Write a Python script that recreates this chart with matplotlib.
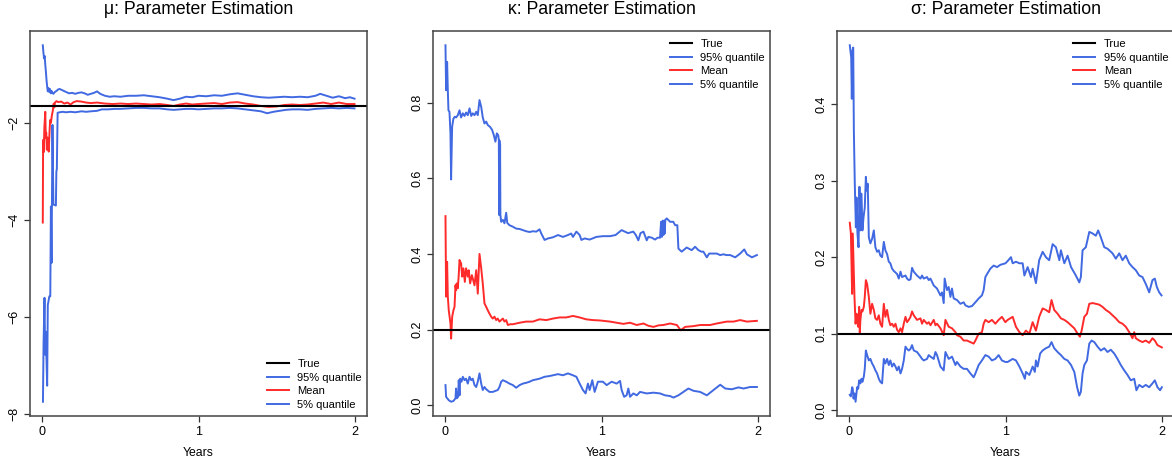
import matplotlib
matplotlib.use("Agg")
import matplotlib.pyplot as plt
from matplotlib.lines import Line2D
from matplotlib.ticker import FormatStrFormatter

plt.rcParams['font.family'] = ['Liberation Sans', 'DejaVu Sans']

BLUE = '#4169E1'
RED = '#FF2A2A'

# ---------------- mu panel ----------------
mu_true = -1.65
mu_up_t = [0.002, 0.006, 0.010, 0.014, 0.018, 0.022, 0.026, 0.030, 0.034, 0.038, 0.043, 0.048,
           0.053, 0.058, 0.064, 0.070, 0.080, 0.090, 0.100, 0.110, 0.130, 0.150, 0.170, 0.190,
           0.210, 0.230, 0.250, 0.270, 0.290, 0.310, 0.330, 0.350, 0.370, 0.400, 0.430, 0.460,
           0.500, 0.550, 0.600, 0.650, 0.700, 0.750, 0.800, 0.840, 0.880, 0.920, 0.960, 1.000,
           1.050, 1.100, 1.150, 1.200, 1.250, 1.300, 1.350, 1.400, 1.450, 1.500, 1.550, 1.600,
           1.650, 1.700, 1.750, 1.780, 1.820, 1.860, 1.900, 1.940, 1.970, 2.000]
mu_up_y = [-0.40, -0.55, -0.67, -0.62, -0.80, -0.95, -1.12, -1.25, -1.35, -1.28, -1.36, -1.30,
           -1.39, -1.34, -1.38, -1.40, -1.36, -1.34, -1.31, -1.30, -1.33, -1.36, -1.39, -1.38,
           -1.40, -1.38, -1.37, -1.39, -1.42, -1.40, -1.38, -1.35, -1.40, -1.44, -1.46, -1.45,
           -1.46, -1.44, -1.44, -1.43, -1.45, -1.47, -1.50, -1.53, -1.50, -1.46, -1.47, -1.44,
           -1.45, -1.43, -1.44, -1.41, -1.39, -1.42, -1.45, -1.47, -1.48, -1.47, -1.46, -1.47,
           -1.46, -1.47, -1.44, -1.40, -1.44, -1.48, -1.45, -1.49, -1.47, -1.50]
mu_mean_t = [0.002, 0.004, 0.008, 0.012, 0.018, 0.021, 0.024, 0.028, 0.032, 0.036, 0.040, 0.045,
             0.049, 0.054, 0.060, 0.066, 0.072, 0.076, 0.080, 0.090, 0.100, 0.120, 0.140, 0.160,
             0.180, 0.200, 0.220, 0.250, 0.280, 0.310, 0.350, 0.400, 0.450, 0.500, 0.550, 0.600,
             0.650, 0.700, 0.750, 0.800, 0.840, 0.880, 0.920, 0.960, 1.000, 1.050, 1.100, 1.150,
             1.200, 1.250, 1.300, 1.350, 1.400, 1.450, 1.500, 1.550, 1.600, 1.650, 1.700, 1.750,
             1.800, 1.850, 1.900, 1.950, 2.000]
mu_mean_y = [-4.05, -2.35, -2.60, -2.10, -1.77, -2.30, -2.20, -2.55, -2.30, -2.50, -2.59, -2.20,
             -1.94, -2.00, -1.85, -1.75, -1.60, -1.68, -1.58, -1.55, -1.57, -1.56, -1.60, -1.58,
             -1.62, -1.57, -1.55, -1.56, -1.58, -1.59, -1.58, -1.60, -1.61, -1.60, -1.61, -1.60,
             -1.61, -1.62, -1.61, -1.63, -1.65, -1.62, -1.60, -1.62, -1.61, -1.60, -1.59, -1.61,
             -1.58, -1.57, -1.60, -1.62, -1.65, -1.67, -1.66, -1.63, -1.62, -1.63, -1.62, -1.60,
             -1.58, -1.61, -1.58, -1.61, -1.61]
mu_low_t = [0.003, 0.007, 0.013, 0.017, 0.021, 0.030, 0.034, 0.044, 0.050, 0.054, 0.058, 0.064,
            0.070, 0.086, 0.089, 0.092, 0.097, 0.110, 0.130, 0.150, 0.180, 0.210, 0.250, 0.280,
            0.310, 0.350, 0.380, 0.420, 0.460, 0.500, 0.550, 0.600, 0.650, 0.700, 0.750, 0.800,
            0.840, 0.880, 0.920, 0.960, 1.000, 1.050, 1.100, 1.150, 1.200, 1.250, 1.300, 1.350,
            1.400, 1.440, 1.480, 1.520, 1.560, 1.600, 1.650, 1.700, 1.750, 1.800, 1.850, 1.900,
            1.950, 2.000]
mu_low_y = [-7.74, -6.52, -5.60, -6.77, -6.30, -7.41, -5.75, -5.57, -5.57, -3.72, -4.88, -2.04,
            -3.68, -3.70, -3.00, -2.95, -1.79, -1.78, -1.77, -1.78, -1.77, -1.78, -1.76, -1.77,
            -1.76, -1.75, -1.72, -1.72, -1.71, -1.71, -1.70, -1.69, -1.69, -1.70, -1.70, -1.72,
            -1.73, -1.72, -1.71, -1.71, -1.72, -1.71, -1.70, -1.70, -1.69, -1.70, -1.72, -1.74,
            -1.76, -1.80, -1.77, -1.75, -1.73, -1.72, -1.72, -1.73, -1.71, -1.70, -1.69, -1.70,
            -1.69, -1.70]

# ---------------- kappa panel ----------------
ka_true = 0.2
ka_up_t = [0.000, 0.004, 0.0105, 0.015, 0.019, 0.0255, 0.032, 0.036, 0.0425, 0.051, 0.060, 0.068,
           0.079, 0.090, 0.100, 0.111, 0.122, 0.132, 0.143, 0.154, 0.165, 0.175, 0.186, 0.197,
           0.207, 0.218, 0.229, 0.239, 0.250, 0.261, 0.271, 0.286, 0.299, 0.310, 0.320, 0.329,
           0.338, 0.342, 0.344, 0.346, 0.348, 0.350, 0.352, 0.357, 0.368, 0.378, 0.389, 0.396,
           0.410, 0.432, 0.453, 0.475, 0.496, 0.517, 0.539, 0.560, 0.582, 0.603, 0.614, 0.635,
           0.657, 0.689, 0.721, 0.753, 0.785, 0.806, 0.817, 0.839, 0.860, 0.871, 0.892, 0.924,
           0.967, 1.009, 1.055, 1.090, 1.129, 1.170, 1.204, 1.220, 1.236, 1.250, 1.269, 1.290,
           1.300, 1.322, 1.343, 1.360, 1.375, 1.382, 1.387, 1.392, 1.397, 1.401, 1.405, 1.409,
           1.418, 1.440, 1.460, 1.472, 1.486, 1.493, 1.514, 1.546, 1.578, 1.600, 1.621, 1.640,
           1.653, 1.675, 1.690, 1.707, 1.739, 1.760, 1.782, 1.800, 1.825, 1.857, 1.889, 1.915,
           1.932, 1.964, 1.996]
ka_up_y = [0.952, 0.833, 0.908, 0.833, 0.780, 0.776, 0.719, 0.597, 0.736, 0.758, 0.763, 0.761,
           0.767, 0.780, 0.761, 0.772, 0.765, 0.774, 0.767, 0.785, 0.765, 0.772, 0.767, 0.776,
           0.767, 0.807, 0.789, 0.761, 0.745, 0.750, 0.741, 0.736, 0.728, 0.714, 0.697, 0.719,
           0.714, 0.701, 0.503, 0.700, 0.503, 0.690, 0.503, 0.485, 0.490, 0.481, 0.509, 0.482,
           0.476, 0.472, 0.467, 0.466, 0.463, 0.460, 0.458, 0.460, 0.459, 0.465, 0.454, 0.437,
           0.441, 0.444, 0.450, 0.445, 0.450, 0.454, 0.445, 0.459, 0.450, 0.437, 0.441, 0.438,
           0.445, 0.447, 0.447, 0.450, 0.463, 0.455, 0.459, 0.450, 0.436, 0.455, 0.459, 0.436,
           0.445, 0.443, 0.438, 0.443, 0.443, 0.485, 0.445, 0.488, 0.450, 0.488, 0.454, 0.490,
           0.494, 0.485, 0.485, 0.476, 0.476, 0.414, 0.406, 0.417, 0.410, 0.419, 0.410, 0.406,
           0.406, 0.391, 0.401, 0.401, 0.401, 0.397, 0.399, 0.397, 0.397, 0.391, 0.401, 0.412,
           0.399, 0.391, 0.397]
ka_mean_t = [0.000, 0.004, 0.0105, 0.015, 0.021, 0.032, 0.036, 0.043, 0.051, 0.058, 0.064, 0.068,
             0.072, 0.079, 0.085, 0.090, 0.100, 0.107, 0.115, 0.124, 0.132, 0.143, 0.149, 0.158,
             0.169, 0.175, 0.186, 0.197, 0.207, 0.218, 0.229, 0.239, 0.250, 0.261, 0.271, 0.282,
             0.293, 0.303, 0.314, 0.325, 0.335, 0.346, 0.357, 0.368, 0.378, 0.389, 0.400, 0.415,
             0.432, 0.475, 0.517, 0.560, 0.603, 0.646, 0.689, 0.731, 0.774, 0.817, 0.860, 0.902,
             0.945, 0.990, 1.055, 1.097, 1.140, 1.183, 1.226, 1.269, 1.300, 1.333, 1.365, 1.397,
             1.440, 1.483, 1.508, 1.536, 1.589, 1.632, 1.696, 1.739, 1.803, 1.846, 1.889, 1.932,
             1.996]
ka_mean_y = [0.500, 0.287, 0.379, 0.287, 0.251, 0.216, 0.176, 0.234, 0.251, 0.260, 0.317, 0.304,
             0.322, 0.309, 0.344, 0.384, 0.375, 0.340, 0.362, 0.326, 0.362, 0.340, 0.357, 0.322,
             0.344, 0.335, 0.317, 0.357, 0.295, 0.400, 0.362, 0.322, 0.269, 0.260, 0.251, 0.242,
             0.234, 0.229, 0.234, 0.225, 0.229, 0.221, 0.225, 0.229, 0.221, 0.225, 0.212, 0.214,
             0.214, 0.218, 0.221, 0.221, 0.227, 0.225, 0.229, 0.232, 0.232, 0.236, 0.232, 0.227,
             0.225, 0.224, 0.221, 0.218, 0.215, 0.218, 0.212, 0.216, 0.210, 0.207, 0.211, 0.212,
             0.216, 0.212, 0.198, 0.207, 0.209, 0.212, 0.212, 0.216, 0.221, 0.221, 0.225, 0.221,
             0.223]
ka_low_t = [0.000, 0.004, 0.021, 0.036, 0.051, 0.064, 0.068, 0.072, 0.081, 0.085, 0.090, 0.094,
            0.103, 0.111, 0.122, 0.132, 0.143, 0.154, 0.165, 0.175, 0.186, 0.197, 0.207, 0.218,
            0.229, 0.239, 0.250, 0.261, 0.282, 0.303, 0.335, 0.346, 0.357, 0.368, 0.389, 0.410,
            0.432, 0.453, 0.475, 0.496, 0.517, 0.539, 0.560, 0.582, 0.603, 0.635, 0.667, 0.689,
            0.721, 0.753, 0.785, 0.817, 0.839, 0.860, 0.881, 0.898, 0.913, 0.924, 0.941, 0.956,
            0.977, 1.009, 1.033, 1.065, 1.097, 1.119, 1.129, 1.145, 1.161, 1.172, 1.183, 1.204,
            1.226, 1.247, 1.290, 1.333, 1.375, 1.407, 1.440, 1.461, 1.493, 1.525, 1.557, 1.589,
            1.632, 1.675, 1.718, 1.761, 1.793, 1.835, 1.878, 1.910, 1.953, 1.996]
ka_low_y = [0.053, 0.022, 0.013, 0.009, 0.011, 0.018, 0.044, 0.018, 0.022, 0.066, 0.026, 0.070,
            0.062, 0.075, 0.066, 0.070, 0.057, 0.075, 0.066, 0.070, 0.053, 0.048, 0.062, 0.084,
            0.057, 0.040, 0.048, 0.042, 0.035, 0.035, 0.040, 0.048, 0.062, 0.066, 0.062, 0.057,
            0.053, 0.046, 0.053, 0.057, 0.059, 0.062, 0.066, 0.068, 0.070, 0.075, 0.077, 0.079,
            0.082, 0.079, 0.084, 0.079, 0.075, 0.057, 0.040, 0.031, 0.057, 0.040, 0.066, 0.035,
            0.062, 0.062, 0.053, 0.062, 0.057, 0.064, 0.040, 0.022, 0.026, 0.044, 0.022, 0.031,
            0.026, 0.035, 0.031, 0.033, 0.031, 0.026, 0.024, 0.020, 0.026, 0.035, 0.044, 0.038,
            0.035, 0.026, 0.040, 0.054, 0.044, 0.042, 0.047, 0.044, 0.048, 0.048]

# ---------------- sigma panel ----------------
sg_true = 0.1
sg_up_t = [0.002, 0.011, 0.015, 0.019, 0.024, 0.028, 0.034, 0.041, 0.045, 0.051, 0.058, 0.064,
           0.070, 0.077, 0.083, 0.090, 0.098, 0.105, 0.111, 0.117, 0.124, 0.134, 0.145, 0.156,
           0.166, 0.177, 0.188, 0.198, 0.209, 0.220, 0.230, 0.241, 0.252, 0.262, 0.273, 0.284,
           0.305, 0.316, 0.327, 0.337, 0.348, 0.359, 0.369, 0.380, 0.391, 0.401, 0.412, 0.433,
           0.455, 0.465, 0.476, 0.497, 0.508, 0.519, 0.540, 0.561, 0.583, 0.593, 0.604, 0.610,
           0.625, 0.636, 0.647, 0.657, 0.668, 0.689, 0.711, 0.732, 0.743, 0.764, 0.785, 0.807,
           0.828, 0.849, 0.860, 0.871, 0.882, 0.903, 0.924, 0.946, 0.967, 1.000, 1.014, 1.035,
           1.046, 1.067, 1.089, 1.110, 1.121, 1.142, 1.163, 1.174, 1.195, 1.216, 1.238, 1.259,
           1.280, 1.302, 1.323, 1.345, 1.355, 1.377, 1.398, 1.420, 1.451, 1.473, 1.483, 1.494,
           1.515, 1.537, 1.558, 1.579, 1.594, 1.611, 1.633, 1.654, 1.686, 1.707, 1.729, 1.750,
           1.771, 1.793, 1.814, 1.835, 1.857, 1.878, 1.899, 1.921, 1.942, 1.957, 1.970, 1.985,
           2.000]
sg_up_y = [0.477, 0.461, 0.407, 0.470, 0.474, 0.366, 0.296, 0.239, 0.278, 0.231, 0.213, 0.292,
           0.235, 0.283, 0.235, 0.252, 0.265, 0.305, 0.287, 0.296, 0.226, 0.218, 0.224, 0.235,
           0.213, 0.207, 0.209, 0.202, 0.200, 0.220, 0.209, 0.204, 0.194, 0.192, 0.185, 0.182,
           0.178, 0.172, 0.181, 0.174, 0.175, 0.176, 0.172, 0.170, 0.171, 0.186, 0.181, 0.176,
           0.172, 0.176, 0.172, 0.174, 0.170, 0.172, 0.163, 0.159, 0.150, 0.154, 0.140, 0.172,
           0.157, 0.161, 0.148, 0.159, 0.146, 0.144, 0.139, 0.141, 0.137, 0.135, 0.136, 0.141,
           0.146, 0.150, 0.157, 0.174, 0.178, 0.185, 0.189, 0.187, 0.190, 0.192, 0.195, 0.200,
           0.192, 0.194, 0.192, 0.192, 0.176, 0.187, 0.174, 0.185, 0.166, 0.196, 0.207, 0.200,
           0.196, 0.217, 0.213, 0.196, 0.209, 0.192, 0.202, 0.187, 0.176, 0.167, 0.174, 0.209,
           0.213, 0.233, 0.231, 0.228, 0.235, 0.226, 0.213, 0.211, 0.205, 0.198, 0.205, 0.196,
           0.202, 0.192, 0.187, 0.183, 0.176, 0.174, 0.165, 0.154, 0.170, 0.172, 0.161, 0.154,
           0.150]
sg_mean_t = [0.002, 0.009, 0.013, 0.017, 0.021, 0.026, 0.032, 0.039, 0.045, 0.049, 0.056, 0.062,
             0.066, 0.070, 0.077, 0.083, 0.092, 0.098, 0.105, 0.113, 0.124, 0.134, 0.145, 0.156,
             0.166, 0.177, 0.188, 0.198, 0.209, 0.220, 0.230, 0.241, 0.252, 0.262, 0.273, 0.284,
             0.295, 0.305, 0.316, 0.327, 0.337, 0.348, 0.359, 0.369, 0.380, 0.391, 0.401, 0.412,
             0.433, 0.455, 0.465, 0.476, 0.497, 0.508, 0.519, 0.540, 0.551, 0.561, 0.583, 0.604,
             0.615, 0.636, 0.657, 0.679, 0.689, 0.711, 0.732, 0.753, 0.775, 0.796, 0.807, 0.828,
             0.849, 0.860, 0.871, 0.892, 0.913, 0.935, 0.956, 0.977, 0.999, 1.014, 1.046, 1.067,
             1.089, 1.110, 1.131, 1.153, 1.174, 1.195, 1.216, 1.238, 1.259, 1.280, 1.295, 1.312,
             1.334, 1.355, 1.377, 1.398, 1.420, 1.441, 1.462, 1.477, 1.488, 1.505, 1.522, 1.537,
             1.558, 1.579, 1.600, 1.622, 1.643, 1.665, 1.686, 1.707, 1.729, 1.750, 1.771, 1.793,
             1.814, 1.825, 1.835, 1.857, 1.878, 1.899, 1.921, 1.942, 1.957, 1.974, 2.002]
sg_mean_y = [0.245, 0.231, 0.192, 0.152, 0.231, 0.192, 0.148, 0.113, 0.126, 0.118, 0.109, 0.135,
             0.101, 0.118, 0.131, 0.129, 0.135, 0.148, 0.170, 0.165, 0.148, 0.126, 0.139, 0.131,
             0.120, 0.118, 0.124, 0.113, 0.109, 0.139, 0.122, 0.131, 0.118, 0.111, 0.113, 0.109,
             0.113, 0.105, 0.102, 0.107, 0.102, 0.113, 0.122, 0.115, 0.118, 0.122, 0.129, 0.124,
             0.118, 0.120, 0.113, 0.118, 0.113, 0.115, 0.111, 0.118, 0.111, 0.113, 0.107, 0.098,
             0.118, 0.109, 0.107, 0.102, 0.098, 0.096, 0.091, 0.091, 0.089, 0.087, 0.091, 0.100,
             0.102, 0.113, 0.118, 0.115, 0.118, 0.113, 0.118, 0.122, 0.115, 0.118, 0.122, 0.109,
             0.102, 0.098, 0.104, 0.100, 0.115, 0.104, 0.122, 0.133, 0.131, 0.128, 0.144, 0.131,
             0.126, 0.120, 0.118, 0.115, 0.111, 0.107, 0.100, 0.096, 0.104, 0.122, 0.126, 0.139,
             0.140, 0.139, 0.138, 0.135, 0.131, 0.128, 0.124, 0.120, 0.115, 0.113, 0.109, 0.102,
             0.094, 0.102, 0.094, 0.091, 0.089, 0.091, 0.088, 0.094, 0.091, 0.085, 0.082]
sg_low_t = [0.002, 0.009, 0.017, 0.021, 0.026, 0.032, 0.039, 0.045, 0.049, 0.056, 0.062, 0.070,
            0.077, 0.083, 0.092, 0.098, 0.105, 0.113, 0.124, 0.134, 0.145, 0.156, 0.166, 0.177,
            0.188, 0.198, 0.209, 0.220, 0.230, 0.241, 0.252, 0.262, 0.273, 0.284, 0.295, 0.305,
            0.316, 0.327, 0.337, 0.348, 0.359, 0.369, 0.380, 0.391, 0.401, 0.412, 0.433, 0.455,
            0.465, 0.476, 0.497, 0.508, 0.519, 0.540, 0.551, 0.561, 0.583, 0.604, 0.615, 0.636,
            0.657, 0.679, 0.689, 0.711, 0.732, 0.753, 0.775, 0.796, 0.807, 0.828, 0.849, 0.871,
            0.892, 0.913, 0.935, 0.956, 0.977, 0.999, 1.014, 1.046, 1.067, 1.089, 1.110, 1.124,
            1.131, 1.153, 1.174, 1.188, 1.195, 1.206, 1.222, 1.238, 1.259, 1.280, 1.295, 1.312,
            1.334, 1.355, 1.377, 1.398, 1.420, 1.441, 1.459, 1.473, 1.483, 1.494, 1.505, 1.522,
            1.537, 1.552, 1.569, 1.590, 1.611, 1.633, 1.654, 1.675, 1.697, 1.718, 1.739, 1.761,
            1.782, 1.803, 1.825, 1.839, 1.857, 1.878, 1.899, 1.921, 1.942, 1.957, 1.974, 1.991,
            2.002]
sg_low_y = [0.020, 0.018, 0.030, 0.028, 0.015, 0.022, 0.011, 0.022, 0.030, 0.028, 0.039, 0.035,
            0.041, 0.037, 0.044, 0.054, 0.078, 0.072, 0.065, 0.067, 0.061, 0.057, 0.052, 0.048,
            0.041, 0.037, 0.035, 0.067, 0.061, 0.067, 0.059, 0.065, 0.057, 0.061, 0.057, 0.052,
            0.057, 0.048, 0.054, 0.065, 0.083, 0.080, 0.078, 0.080, 0.085, 0.078, 0.076, 0.070,
            0.067, 0.065, 0.067, 0.072, 0.070, 0.067, 0.076, 0.072, 0.057, 0.052, 0.076, 0.067,
            0.070, 0.059, 0.063, 0.057, 0.054, 0.054, 0.048, 0.043, 0.048, 0.059, 0.065, 0.072,
            0.070, 0.065, 0.067, 0.072, 0.065, 0.063, 0.063, 0.067, 0.065, 0.057, 0.048, 0.041,
            0.050, 0.046, 0.057, 0.050, 0.065, 0.057, 0.074, 0.078, 0.081, 0.083, 0.089, 0.081,
            0.076, 0.072, 0.067, 0.065, 0.059, 0.050, 0.030, 0.019, 0.024, 0.048, 0.059, 0.065,
            0.087, 0.091, 0.089, 0.083, 0.078, 0.081, 0.076, 0.079, 0.074, 0.067, 0.059, 0.052,
            0.046, 0.039, 0.041, 0.026, 0.033, 0.030, 0.033, 0.030, 0.035, 0.039, 0.030, 0.026,
            0.030]

x_ticks = [0, 1, 2]
legend_labels = ["True", "95% quantile", "Mean", "5% quantile"]

panels = [
    dict(title="\u03bc: Parameter Estimation", up=(mu_up_t, mu_up_y), mean=(mu_mean_t, mu_mean_y),
         low=(mu_low_t, mu_low_y), true=mu_true, yticks=[-8, -6, -4, -2], fmt="%d",
         left=30, leg=(0.703, 0.082)),
    dict(title="\u03ba: Parameter Estimation", up=(ka_up_t, ka_up_y), mean=(ka_mean_t, ka_mean_y),
         low=(ka_low_t, ka_low_y), true=ka_true, yticks=[0.0, 0.2, 0.4, 0.6, 0.8], fmt="%.1f",
         left=433, leg=(0.703, 0.9135)),
    dict(title="\u03c3: Parameter Estimation", up=(sg_up_t, sg_up_y), mean=(sg_mean_t, sg_mean_y),
         low=(sg_low_t, sg_low_y), true=sg_true, yticks=[0.0, 0.1, 0.2, 0.3, 0.4], fmt="%.1f",
         left=837, leg=(0.701, 0.9135)),
]

W, H = 1172, 466
fig = plt.figure(figsize=(W / 100, H / 100), dpi=100)

for p in panels:
    ax = fig.add_axes([p['left'] / W, (H - 416) / H, 337 / W, 385 / H])
    ax.plot(*p['up'], color=BLUE, lw=1.4)
    ax.plot(*p['mean'], color=RED, lw=1.4)
    ax.plot(*p['low'], color=BLUE, lw=1.4)
    ax.axhline(p['true'], color='black', lw=1.5)

    allv = p['up'][1] + p['mean'][1] + p['low'][1]
    lo, hi = min(allv), max(allv)
    pad = 0.04 * (hi - lo)
    ax.set_ylim(lo - pad, hi + pad)
    ax.set_xlim(-0.08, 2.08)
    ax.set_xticks(x_ticks)
    ax.set_yticks(p['yticks'])
    ax.yaxis.set_major_formatter(FormatStrFormatter(p['fmt']))
    if p['fmt'] == "%d":
        ax.set_yticklabels(["\u2212%d" % abs(v) for v in p['yticks']])
    ax.tick_params(axis='both', direction='out', length=4.5, width=0.9, color='#333333',
                   labelsize=9, pad=3)
    ax.tick_params(axis='y', labelrotation=90, pad=2.5)
    for lab in ax.get_yticklabels():
        lab.set_va('center')
    for s in ax.spines.values():
        s.set_color('#444444')
        s.set_linewidth(1.1)
    ax.set_xlabel("Years", fontsize=8.8, labelpad=6)
    ax.set_title(p['title'], fontsize=12.7, pad=12)

    handles = [Line2D([], [], color='black', lw=1.5), Line2D([], [], color=BLUE, lw=1.4),
               Line2D([], [], color=RED, lw=1.4), Line2D([], [], color=BLUE, lw=1.4)]
    ax.legend(handles, legend_labels, loc='center left', bbox_to_anchor=p['leg'],
              frameon=False, fontsize=8, handlelength=1.95, handletextpad=0.8,
              labelspacing=0.32, borderpad=0, borderaxespad=0)

fig.savefig("out.png", dpi=100)
